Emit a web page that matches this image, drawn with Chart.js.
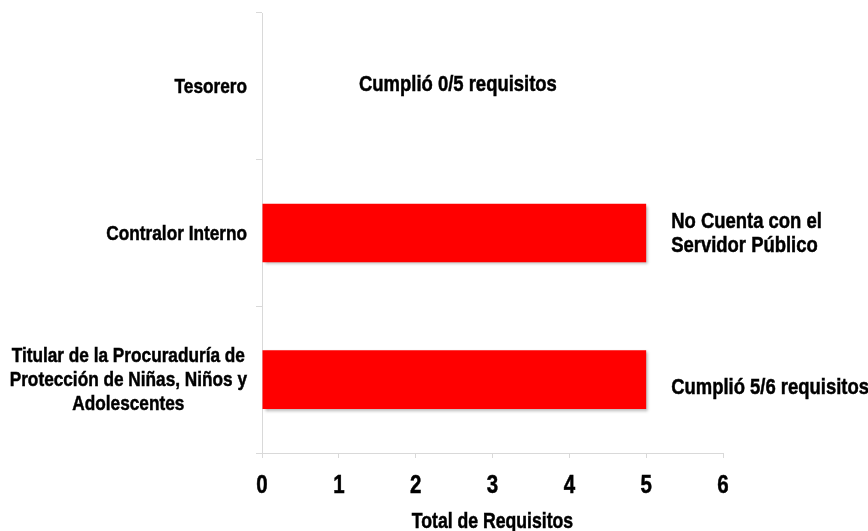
<!DOCTYPE html>
<html>
<head>
<meta charset="utf-8">
<script src="https://cdn.jsdelivr.net/npm/chart.js@4"></script>
<style>
  html, body { margin: 0; padding: 0; background: #fff; }
  #wrap { width: 868px; height: 531px; }
</style>
</head>
<body>
<div id="wrap"><canvas id="chart"></canvas></div>
<script>
const categories = [
  ["Tesorero"],
  ["Contralor Interno"],
  ["Titular de la Procuraduría de", "Protección de Niñas, Niños y", "Adolescentes"]
];
const values = [0, 5, 5];
const notes = [
  ["Cumplió 0/5 requisitos"],
  ["No Cuenta con el", "Servidor Público"],
  ["Cumplió 5/6 requisitos"]
];
const xTicks = [0, 1, 2, 3, 4, 5, 6];
const xTitle = "Total de Requisitos";

const FONT = '"Liberation Sans", Arial, sans-serif';
const NARROW = 0.82; // squeeze to look like Arial Narrow
const AXIS_GRAY = "#d9d9d9";

// draw bold condensed text
function narrowText(ctx, text, x, y, align, size) {
  ctx.save();
  ctx.font = "bold " + size + "px " + FONT;
  ctx.fillStyle = "#000";
  ctx.strokeStyle = "#000";
  ctx.lineWidth = 0.5;
  ctx.textBaseline = "middle";
  ctx.textAlign = align;
  ctx.translate(x, y);
  ctx.scale(NARROW, 1);
  ctx.fillText(text, 0, 0);
  ctx.strokeText(text, 0, 0);
  ctx.restore();
}

function narrowWidth(ctx, text, size) {
  ctx.save();
  ctx.font = "bold " + size + "px " + FONT;
  const w = ctx.measureText(text).width * NARROW;
  ctx.restore();
  return w;
}

// Shadow under the bars
const barShadow = {
  id: "barShadow",
  beforeDatasetsDraw(chart) {
    const ctx = chart.ctx;
    ctx.save();
    ctx.shadowColor = "rgba(0,0,0,0.3)";
    ctx.shadowBlur = 3;
    ctx.shadowOffsetX = 2;
    ctx.shadowOffsetY = 2;
  },
  afterDatasetsDraw(chart) {
    chart.ctx.restore();
  }
};

// All the text: category labels, x tick labels, axis title, notes
const texts = {
  id: "texts",
  afterDraw(chart) {
    const ctx = chart.ctx;
    const x = chart.scales.x;
    const y = chart.scales.y;

    // category labels: block right aligned, lines centered
    categories.forEach((lines, i) => {
      const cy = y.getPixelForValue(i);
      const w = Math.max(...lines.map(l => narrowWidth(ctx, l, 21)));
      const cx = y.right - 15 - w / 2;
      lines.forEach((l, k) => {
        narrowText(ctx, l, cx, cy + 1 + (k - (lines.length - 1) / 2) * 24, "center", 21);
      });
    });

    // x tick labels
    xTicks.forEach(v => {
      narrowText(ctx, String(v), x.getPixelForValue(v), x.top + 33, "center", 25);
    });

    // axis title
    narrowText(ctx, xTitle, (x.left + x.right) / 2, x.bottom - 9, "center", 21.5);

    // notes next to the bars
    notes.forEach((lines, i) => {
      let cy = y.getPixelForValue(i);
      if (values[i] === 0) {
        narrowText(ctx, lines[0], x.getPixelForValue(2.55), cy - 2, "center", 22.5);
        return;
      }
      const tx = x.getPixelForValue(values[i]) + 25;
      if (lines.length === 1) cy += 7;
      lines.forEach((l, k) => {
        narrowText(ctx, l, tx, cy + 1 + (k - (lines.length - 1) / 2) * 24, "left", 22.5);
      });
    });
  }
};

new Chart(document.getElementById("chart"), {
  type: "bar",
  data: {
    labels: categories,
    datasets: [{
      data: values,
      backgroundColor: "#ff0000",
      borderWidth: 0,
      categoryPercentage: 1,
      barPercentage: 0.4
    }]
  },
  options: {
    indexAxis: "y",
    responsive: true,
    maintainAspectRatio: false,
    animation: false,
    layout: { padding: { top: 13, right: 145, bottom: 0, left: 0 } },
    plugins: {
      legend: { display: false },
      tooltip: { enabled: false }
    },
    scales: {
      x: {
        min: xTicks[0],
        max: xTicks[xTicks.length - 1],
        afterBuildTicks: s => { s.ticks = xTicks.map(v => ({ value: v })); },
        afterFit: s => { s.height = 78; },
        grid: { drawOnChartArea: false, color: AXIS_GRAY, tickLength: 5 },
        border: { color: AXIS_GRAY },
        ticks: { display: false },
        title: { display: false }
      },
      y: {
        afterFit: s => { s.width = 262; },
        grid: { drawOnChartArea: false, color: AXIS_GRAY, tickLength: 6 },
        border: { color: AXIS_GRAY },
        ticks: { display: false }
      }
    }
  },
  plugins: [barShadow, texts]
});
</script>
</body>
</html>
